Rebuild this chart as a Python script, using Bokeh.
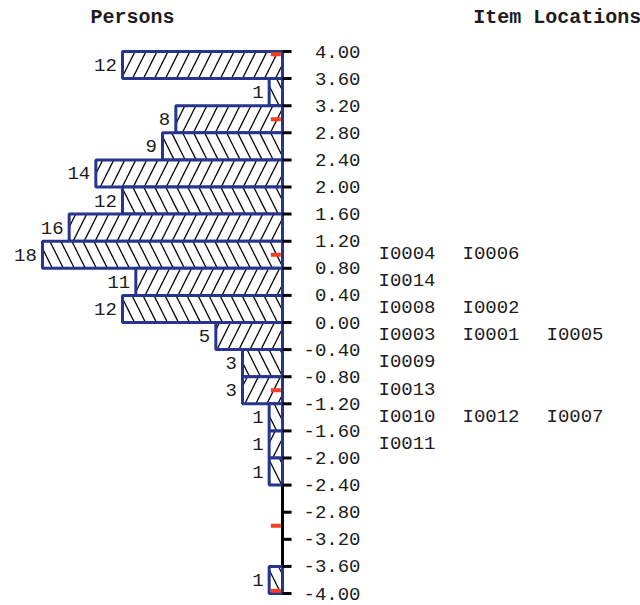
from bokeh.plotting import figure
from bokeh.models import Range1d, ColumnDataSource
from bokeh.core.properties import value
from bokeh.embed import file_html
from bokeh.resources import INLINE

# ---- data ----
bin_centers = [3.8, 3.4, 3.0, 2.6, 2.2, 1.8, 1.4, 1.0, 0.6, 0.2,
               -0.2, -0.6, -1.0, -1.4, -1.8, -2.2, -2.6, -3.0, -3.4, -3.8]
person_counts = [12, 1, 8, 9, 14, 12, 16, 18, 11, 12,
                 5, 3, 3, 1, 1, 1, 0, 0, 0, 1]
tick_values = [4.0, 3.6, 3.2, 2.8, 2.4, 2.0, 1.6, 1.2, 0.8, 0.4, 0.0,
               -0.4, -0.8, -1.2, -1.6, -2.0, -2.4, -2.8, -3.2, -3.6, -4.0]
item_names = ["I0004", "I0006", "I0014", "I0008", "I0002", "I0003", "I0001", "I0005",
              "I0009", "I0013", "I0010", "I0012", "I0007", "I0011"]
item_measures = [1.0, 1.0, 0.6, 0.2, 0.2, -0.2, -0.2, -0.2,
                 -0.6, -1.0, -1.4, -1.4, -1.4, -1.8]
marker_values = [3.96, 3.0, 1.0, -1.0, -3.0, -3.96]

FONT = value("Liberation Mono")
TXT = "#1c1c1c"
NAVY = "#27358F"
RED = "#F0401E"

W, H = 640, 605
p = figure(width=W, height=H, output_backend="svg", toolbar_location=None,
           x_axis_type=None, y_axis_type=None,
           x_range=Range1d(-21.15, 26.85), y_range=Range1d(-4.177, 4.7528),
           min_border=0, min_border_left=0, min_border_right=0,
           min_border_top=0, min_border_bottom=0)
p.outline_line_color = None
p.background_fill_color = "white"
p.border_fill_color = "white"

# vertical axis line
p.segment(x0=[0], y0=[tick_values[-1]], x1=[0], y1=[tick_values[0]],
          line_color="black", line_width=3)

# bars
idx = [i for i, c in enumerate(person_counts) if c > 0]
bars = ColumnDataSource(dict(
    y=[bin_centers[i] for i in idx],
    left=[-person_counts[i] for i in idx],
    right=[0] * len(idx),
    hatch=["/" if i % 2 == 0 else "\\" for i in idx],
    label=[str(person_counts[i]) for i in idx],
    lx=[-person_counts[i] - 0.42 for i in idx],
))
p.hbar(y="y", left="left", right="right", height=0.4, source=bars,
       fill_color="white", line_color=NAVY, line_width=3,
       hatch_pattern="hatch", hatch_color="black", hatch_weight=1.3, hatch_scale=22)

# red markers
p.rect(x=[-0.5] * len(marker_values), y=marker_values, width=10, height=4,
       width_units="screen", height_units="screen",
       fill_color=RED, line_color=None)

# ticks
p.segment(x0=[0] * len(tick_values), y0=tick_values,
          x1=[0.68] * len(tick_values), y1=tick_values,
          line_color="black", line_width=3)

# tick labels
p.text(x=[5.85] * len(tick_values), y=tick_values,
       text=[f"{v:.2f}" for v in tick_values],
       text_font=FONT, text_font_size="19px", text_color=TXT,
       text_align="right", text_baseline="middle")

# count labels
p.text(x="lx", y="y", text="label", source=bars,
       text_font=FONT, text_font_size="19px", text_color=TXT,
       text_align="right", text_baseline="middle")

# item labels, arranged in columns per location
col_count = {}
ix, iy = [], []
for name, m in zip(item_names, item_measures):
    c = col_count.get(m, 0)
    col_count[m] = c + 1
    ix.append(7.2 + c * 6.3)
    iy.append(m + 0.01)
p.text(x=ix, y=iy, text=item_names,
       text_font=FONT, text_font_size="19px", text_color=TXT,
       text_align="left", text_baseline="middle")

# headers
p.text(x=[-14.4, 14.3], y=[4.50, 4.50], text=["Persons", "Item Locations"],
       text_font=FONT, text_font_size="20px", text_font_style="bold",
       text_color=TXT, text_align="left", text_baseline="middle")

open("out.html", "w").write(file_html(p, INLINE))
